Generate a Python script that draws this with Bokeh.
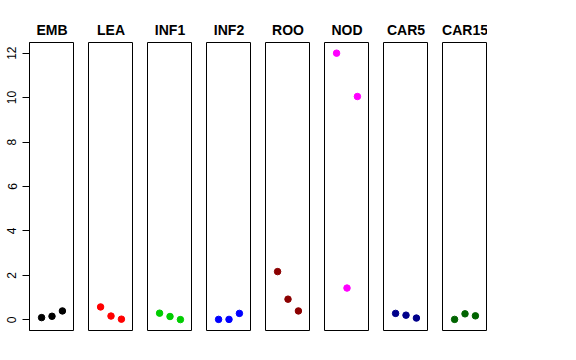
from bokeh.plotting import figure
from bokeh.layouts import row
from bokeh.models import Range1d, FixedTicker
from bokeh.embed import file_html
from bokeh.resources import INLINE

tissues = ["EMB", "LEA", "INF1", "INF2", "ROO", "NOD", "CAR5", "CAR15"]
replicate = [1, 2, 3]
emb = [0.10, 0.16, 0.40]
lea = [0.58, 0.17, 0.03]
inf1 = [0.30, 0.15, 0.01]
inf2 = [0.02, 0.02, 0.29]
roo = [2.17, 0.93, 0.40]
nod = [12.0, 1.43, 10.05]
car5 = [0.29, 0.21, 0.08]
car15 = [0.02, 0.27, 0.18]
series = [emb, lea, inf1, inf2, roo, nod, car5, car15]
colors = ["#000000", "#FF0000", "#00CD00", "#0000FF", "#8B0000", "#FF00FF", "#00008B", "#006400"]
y_ticks = [0, 2, 4, 6, 8, 10, 12]

FONT = "Liberation Sans"
figs = []
for i, (name, vals, col) in enumerate(zip(tissues, series, colors)):
    first = i == 0
    p = figure(
        frame_width=45, frame_height=288,
        x_range=Range1d(-0.16, 4.16), y_range=Range1d(-0.48, 12.48),
        x_axis_location=None, y_axis_location="left" if first else None,
        output_backend="svg", toolbar_location=None, title=name,
        min_border_left=29 if first else 14, min_border_right=0,
        min_border_top=42, min_border_bottom=5,
    )
    p.grid.visible = False
    p.outline_line_color = "black"
    p.outline_line_width = 1
    p.outline_line_alpha = 1.0
    p.background_fill_color = "white"
    p.border_fill_color = "white"
    p.title.align = "center"
    p.title.text_font = FONT
    p.title.text_font_style = "bold"
    p.title.text_font_size = "14px"
    p.title.text_color = "black"
    if first:
        ax = p.yaxis[0]
        ax.ticker = FixedTicker(ticks=y_ticks)
        ax.major_label_orientation = "vertical"
        ax.major_label_text_font = FONT
        ax.major_label_text_font_size = "12px"
        ax.major_label_text_color = "black"
        ax.major_label_standoff = 6
        ax.major_tick_out = 7
        ax.major_tick_in = 0
        ax.minor_tick_line_color = None
        ax.major_tick_line_color = "black"
        ax.axis_line_color = "black"
    p.scatter(replicate, vals, size=6.5, color=col, line_color=col)
    figs.append(p)

layout = row(*figs, spacing=0)
open("out.html", "w").write(file_html(layout, INLINE))
